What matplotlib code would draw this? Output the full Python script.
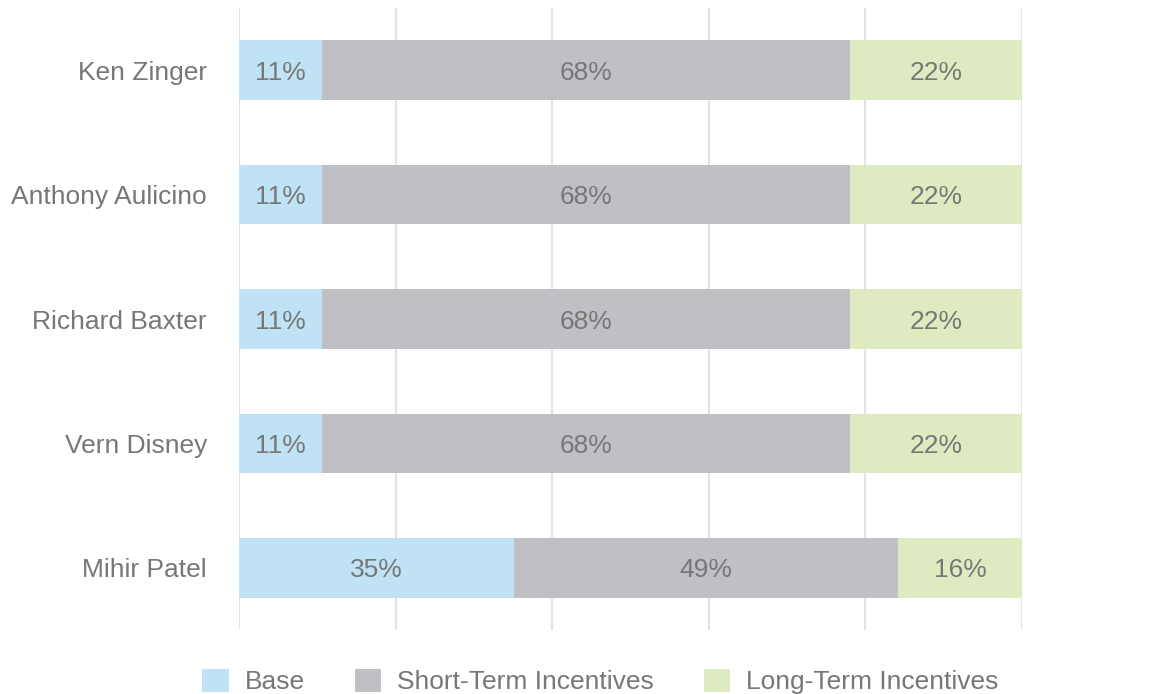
import numpy as np
import matplotlib.pyplot as plt
from matplotlib.patches import Patch

plt.rcParams['font.family'] = ['Liberation Sans', 'DejaVu Sans']

# data (top to bottom as shown)
people = ['Ken Zinger', 'Anthony Aulicino', 'Richard Baxter', 'Vern Disney', 'Mihir Patel']
base = [10.6, 10.6, 10.6, 10.6, 35.1]
short_term = [67.4, 67.4, 67.4, 67.4, 49.1]
long_term = [22.0, 22.0, 22.0, 22.0, 15.8]
base_lbl = ['11%', '11%', '11%', '11%', '35%']
short_lbl = ['68%', '68%', '68%', '68%', '49%']
long_lbl = ['22%', '22%', '22%', '22%', '16%']

series = ['Base', 'Short-Term Incentives', 'Long-Term Incentives']
colors = ['#bfe2f5', '#bfc0c4', '#deebc0']
txt_col = '#777777'
fs = 19

fig = plt.figure(figsize=(11.68, 6.94), dpi=100)
ax = fig.add_axes([239 / 1168, 1 - 630 / 694, (1022 - 239) / 1168, 622 / 694])

y = np.arange(len(people))[::-1]
left = np.zeros(len(people))
for vals, lbls, c in zip([base, short_term, long_term], [base_lbl, short_lbl, long_lbl], colors):
    vals = np.array(vals)
    ax.barh(y, vals, left=left, height=0.48, color=c, zorder=2)
    for yi, l, v, t in zip(y, left, vals, lbls):
        ax.text(l + v / 2, yi, t, ha='center', va='center_baseline',
                color=txt_col, fontsize=fs, zorder=3)
    left += vals

ax.set_xlim(0, 100)
ax.set_ylim(-0.5, 4.5)
ax.set_xticks(np.arange(0, 101, 20))
ax.set_xticklabels([])
ax.grid(axis='x', color='#e3e3e3', linewidth=1.5, zorder=0)
ax.set_yticks(y)
ax.set_yticklabels(people, fontsize=fs, color=txt_col, va='center_baseline')
ax.tick_params(length=0, pad=23)
for s in ax.spines.values():
    s.set_visible(False)

# legend sits at the very bottom edge, as in the original
handles = [Patch(facecolor=c, edgecolor='none') for c in colors]
fig.legend(handles, series, loc='center', bbox_to_anchor=(0.514, 0.018), ncol=3,
           frameon=False, fontsize=fs, labelcolor=txt_col, handlelength=1.0,
           handleheight=1.0, handletextpad=0.6, columnspacing=1.9)

fig.savefig('out.png', dpi=100)
